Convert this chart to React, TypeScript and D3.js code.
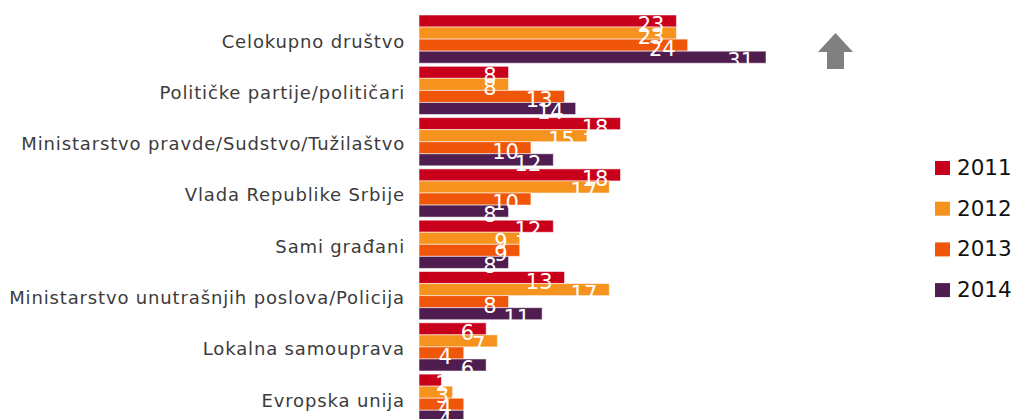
import React from "react";
import * as d3 from "d3";

const categories = [
  "Celokupno društvo",
  "Političke partije/političari",
  "Ministarstvo pravde/Sudstvo/Tužilaštvo",
  "Vlada Republike Srbije",
  "Sami građani",
  "Ministarstvo unutrašnjih poslova/Policija",
  "Lokalna samouprava",
  "Evropska unija",
];
const years = ["2011", "2012", "2013", "2014"];
const v2011 = [23, 8, 18, 18, 12, 13, 6, 2];
const v2012 = [23, 8, 15, 17, 9, 17, 7, 3];
const v2013 = [24, 13, 10, 10, 9, 8, 4, 4];
const v2014 = [31, 14, 12, 8, 8, 11, 6, 4];
const seriesValues = [v2011, v2012, v2013, v2014];
const colors = ["#C8001C", "#F6921E", "#F0560A", "#4F1D4F"];

export default function App() {
  const W = 1017;
  const H = 419;
  const x0 = 419;
  const x = d3.scaleLinear().domain([0, 31]).range([x0, 766]);
  const pad = 0.06;
  const step = 51.3;
  const y = d3
    .scaleBand<string>()
    .domain(categories)
    .range([15, 15 + step * (categories.length - pad)])
    .paddingInner(pad)
    .paddingOuter(0);
  const ySub = d3.scaleBand<string>().domain(years).range([0, y.bandwidth()]).padding(0);
  const font = "'DejaVu Sans', Verdana, sans-serif";

  return (
    <svg width={W} height={H} style={{ position: "absolute", left: 0, top: 0, background: "#fff" }}>
      {categories.map((c) => (
        <text
          key={c}
          x={405}
          y={(y(c) as number) + y.bandwidth() / 2 + 2}
          dy="0.36em"
          textAnchor="end"
          fontFamily={font}
          fontSize={18}
          letterSpacing={0.85}
          fill="#3c3c3c"
        >
          {c}
        </text>
      ))}
      {categories.map((c, i) =>
        years.map((yr, j) => (
          <rect
            key={c + yr}
            x={x(0)}
            y={(y(c) as number) + (ySub(yr) as number)}
            width={x(seriesValues[j][i]) - x(0)}
            height={ySub.bandwidth()}
            fill={colors[j]}
            stroke="rgba(255,255,255,0.55)"
            strokeWidth={1}
          />
        ))
      )}
      {categories.map((c, i) =>
        years.map((yr, j) => {
          const end = Math.max(x(seriesValues[j][i]) - 12, x0 + 30);
          return (
            <text
              key={"l" + c + yr}
              x={end}
              y={(y(c) as number) + (ySub(yr) as number) + 17}
              textAnchor="end"
              fontFamily={font}
              fontSize={21}
              fill="#fff"
            >
              {seriesValues[j][i]}
            </text>
          );
        })
      )}
      <path d="M818,52 L835.5,33 L853,52 L844,52 L844,69 L827,69 L827,52 Z" fill="#808080" />
      {years.map((yr, j) => (
        <g key={"lg" + yr} transform={`translate(935,${161 + j * 40.7})`}>
          <rect x={0} y={0} width={15} height={14} fill={colors[j]} />
          <text x={22} y={14} fontFamily={font} fontSize={21.5} fill="#111">
            {yr}
          </text>
        </g>
      ))}
    </svg>
  );
}
